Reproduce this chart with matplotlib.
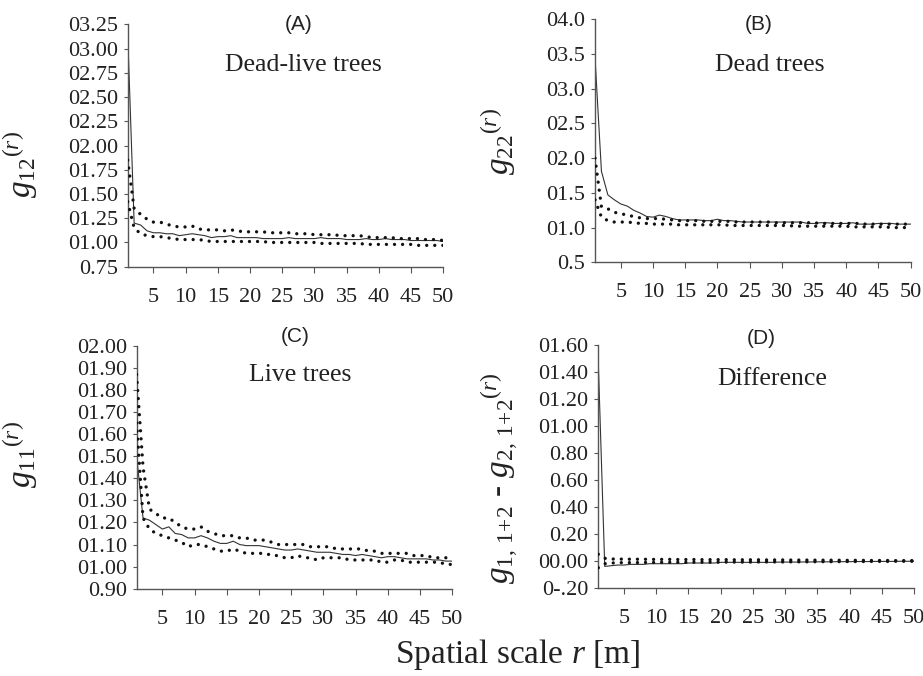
import matplotlib
matplotlib.use("Agg")
import matplotlib.pyplot as plt
import numpy as np

plt.rcParams['font.family'] = ['Liberation Serif', 'DejaVu Serif']
plt.rcParams['mathtext.fontset'] = 'custom'
plt.rcParams['mathtext.rm'] = 'Liberation Serif'
plt.rcParams['mathtext.it'] = 'Liberation Serif:italic'
plt.rcParams['lines.scale_dashes'] = False

r = list(range(1, 51))

# Panel A: dead-live trees g12
a_obs = [3.15, 1.20, 1.18, 1.12, 1.10, 1.10, 1.09, 1.09, 1.07, 1.08,
         1.09, 1.08, 1.07, 1.05, 1.06, 1.06, 1.07, 1.05, 1.05, 1.05,
         1.05, 1.04, 1.04, 1.04, 1.04, 1.05, 1.04, 1.04, 1.04, 1.04,
         1.05, 1.04, 1.04, 1.04, 1.03, 1.03, 1.03, 1.04, 1.03, 1.03,
         1.04, 1.03, 1.03, 1.03, 1.02, 1.02, 1.02, 1.02, 1.02, 1.01]
a_hi = [1.85, 1.35, 1.29, 1.24, 1.21, 1.21, 1.19, 1.17, 1.16, 1.16,
        1.17, 1.14, 1.13, 1.13, 1.13, 1.12, 1.13, 1.12, 1.11, 1.11,
        1.11, 1.11, 1.10, 1.10, 1.10, 1.10, 1.09, 1.09, 1.09, 1.08,
        1.08, 1.08, 1.08, 1.07, 1.07, 1.07, 1.07, 1.06, 1.05, 1.05,
        1.05, 1.05, 1.04, 1.04, 1.04, 1.04, 1.03, 1.03, 1.03, 1.02]
a_lo = [1.42, 1.15, 1.09, 1.07, 1.06, 1.06, 1.05, 1.04, 1.03, 1.03,
        1.03, 1.03, 1.02, 1.01, 1.01, 1.01, 1.01, 1.01, 1.01, 1.01,
        1.01, 1.01, 1.00, 1.00, 1.00, 1.00, 1.00, 1.00, 1.00, 1.00,
        0.99, 0.99, 0.99, 0.99, 0.99, 0.99, 0.99, 0.98, 0.98, 0.98,
        0.98, 0.98, 0.98, 0.98, 0.98, 0.97, 0.97, 0.97, 0.97, 0.97]

# Panel B: dead trees g22
b_obs = [3.45, 1.81, 1.47, 1.40, 1.34, 1.31, 1.25, 1.21, 1.16, 1.15,
         1.18, 1.16, 1.13, 1.11, 1.11, 1.11, 1.11, 1.10, 1.10, 1.12,
         1.10, 1.10, 1.09, 1.08, 1.08, 1.08, 1.08, 1.08, 1.08, 1.08,
         1.08, 1.08, 1.08, 1.06, 1.06, 1.07, 1.07, 1.06, 1.06, 1.06,
         1.07, 1.05, 1.05, 1.05, 1.06, 1.06, 1.06, 1.05, 1.05, 1.05]
b_hi = [2.00, 1.30, 1.27, 1.22, 1.20, 1.18, 1.16, 1.14, 1.13, 1.13,
        1.13, 1.12, 1.11, 1.10, 1.10, 1.10, 1.10, 1.09, 1.09, 1.09,
        1.09, 1.09, 1.08, 1.08, 1.08, 1.08, 1.08, 1.08, 1.07, 1.07,
        1.07, 1.07, 1.07, 1.07, 1.07, 1.06, 1.06, 1.06, 1.06, 1.06,
        1.06, 1.06, 1.05, 1.05, 1.05, 1.05, 1.05, 1.05, 1.05, 1.05]
b_lo = [1.40, 1.15, 1.10, 1.08, 1.08, 1.08, 1.07, 1.06, 1.06, 1.05,
        1.05, 1.05, 1.05, 1.04, 1.04, 1.04, 1.04, 1.04, 1.04, 1.04,
        1.04, 1.03, 1.03, 1.03, 1.03, 1.03, 1.03, 1.03, 1.03, 1.03,
        1.03, 1.02, 1.02, 1.02, 1.02, 1.02, 1.02, 1.02, 1.02, 1.02,
        1.01, 1.01, 1.01, 1.01, 1.01, 1.01, 1.00, 1.00, 1.00, 1.00]

# Panel C: live trees g11
c_obs = [1.50, 1.22, 1.21, 1.19, 1.17, 1.18, 1.15, 1.145, 1.13, 1.13,
         1.14, 1.13, 1.115, 1.105, 1.105, 1.115, 1.10, 1.095, 1.095, 1.095,
         1.09, 1.085, 1.08, 1.075, 1.075, 1.08, 1.075, 1.07, 1.065, 1.065,
         1.065, 1.06, 1.055, 1.055, 1.05, 1.055, 1.05, 1.045, 1.04, 1.045,
         1.045, 1.04, 1.035, 1.035, 1.035, 1.035, 1.03, 1.03, 1.025, 1.025]
c_hi = [1.87, 1.45, 1.26, 1.24, 1.22, 1.22, 1.20, 1.18, 1.17, 1.17,
        1.18, 1.16, 1.15, 1.14, 1.14, 1.14, 1.13, 1.13, 1.12, 1.12,
        1.12, 1.11, 1.10, 1.10, 1.10, 1.10, 1.10, 1.09, 1.09, 1.09,
        1.09, 1.08, 1.08, 1.08, 1.08, 1.08, 1.07, 1.07, 1.06, 1.06,
        1.06, 1.06, 1.06, 1.05, 1.05, 1.05, 1.04, 1.04, 1.04, 1.03]
c_lo = [1.65, 1.22, 1.17, 1.15, 1.14, 1.13, 1.12, 1.11, 1.09, 1.10,
        1.10, 1.09, 1.08, 1.07, 1.07, 1.08, 1.07, 1.06, 1.06, 1.06,
        1.06, 1.05, 1.05, 1.04, 1.04, 1.05, 1.04, 1.04, 1.03, 1.04,
        1.04, 1.04, 1.04, 1.03, 1.03, 1.03, 1.03, 1.03, 1.02, 1.02,
        1.03, 1.03, 1.02, 1.02, 1.02, 1.02, 1.02, 1.02, 1.01, 1.01]

# Panel D: difference
d_obs = [1.47, -0.04, -0.035, -0.03, -0.03, -0.025, -0.025, -0.025, -0.02, -0.02,
         -0.02, -0.02, -0.02, -0.02, -0.015, -0.015, -0.015, -0.015, -0.015, -0.01,
         -0.01, -0.01, -0.01, -0.01, -0.01, -0.01, -0.01, -0.01, -0.008, -0.008,
         -0.008, -0.008, -0.007, -0.007, -0.006, -0.006, -0.006, -0.005, -0.005, -0.005,
         -0.004, -0.004, -0.004, -0.003, -0.003, -0.003, -0.003, -0.002, -0.002, -0.002]
d_hi = [0.05, 0.02, 0.015, 0.014, 0.014, 0.013, 0.013, 0.013, 0.012, 0.012,
        0.012, 0.012, 0.011, 0.011, 0.011, 0.011, 0.010, 0.010, 0.010, 0.010,
        0.010, 0.009, 0.009, 0.009, 0.009, 0.009, 0.008, 0.008, 0.008, 0.008,
        0.007, 0.007, 0.007, 0.007, 0.006, 0.006, 0.006, 0.006, 0.005, 0.005,
        0.005, 0.005, 0.004, 0.004, 0.004, 0.004, 0.003, 0.003, 0.003, 0.003]
d_lo = [-0.05, -0.02, -0.015, -0.013, -0.012, -0.012, -0.012, -0.011, -0.011, -0.011,
        -0.010, -0.010, -0.010, -0.010, -0.010, -0.009, -0.009, -0.009, -0.009, -0.009,
        -0.008, -0.008, -0.008, -0.008, -0.008, -0.007, -0.007, -0.007, -0.007, -0.007,
        -0.006, -0.006, -0.006, -0.006, -0.005, -0.005, -0.005, -0.005, -0.004, -0.004,
        -0.004, -0.004, -0.003, -0.003, -0.003, -0.003, -0.002, -0.002, -0.002, -0.002]

x_ticks = [5, 10, 15, 20, 25, 30, 35, 40, 45, 50]

a_yticks = [0.75, 1.00, 1.25, 1.50, 1.75, 2.00, 2.25, 2.50, 2.75, 3.00, 3.25]
a_ylabels = ['0.75', '01.00', '01.25', '01.50', '01.75', '02.00', '02.25', '02.50', '02.75', '03.00', '03.25']
b_yticks = [0.5, 1.0, 1.5, 2.0, 2.5, 3.0, 3.5, 4.0]
b_ylabels = ['0.5', '01.0', '01.5', '02.0', '02.5', '03.0', '03.5', '04.0']
c_yticks = [0.9, 1.0, 1.1, 1.2, 1.3, 1.4, 1.5, 1.6, 1.7, 1.8, 1.9, 2.0]
c_ylabels = ['0.90', '01.00', '01.10', '01.20', '01.30', '01.40', '01.50', '01.60', '01.70', '01.80', '01.90', '02.00']
d_yticks = [-0.2, 0.0, 0.2, 0.4, 0.6, 0.8, 1.0, 1.2, 1.4, 1.6]
d_ylabels = ['0-.20', '00.00', '0.20', '0.40', '0.60', '0.80', '01.00', '01.20', '01.40', '01.60']

W, H = 923, 676
fig = plt.figure(figsize=(W / 100, H / 100), dpi=100)

def rect(l, rgt, t, b):
    return [l / W, 1 - b / H, (rgt - l) / W, (b - t) / H]

panels = [
    dict(rect=rect(127.7, 443.3, 24.3, 266.7), obs=a_obs, hi=a_hi, lo=a_lo,
         ylim=(0.75, 3.25), yt=a_yticks, yl=a_ylabels,
         tag='(A)', tagxy=(299, 25), title='Dead-live trees', titxy=(303, 65),
         ylab=r'$g_{12}{}^{(r)}$', ylabxy=(21, 165)),
    dict(rect=rect(595, 910.7, 19.3, 262.3), obs=b_obs, hi=b_hi, lo=b_lo,
         ylim=(0.5, 4.0), yt=b_yticks, yl=b_ylabels,
         tag='(B)', tagxy=(759, 25), title='Dead trees', titxy=(770, 65),
         ylab=r'$g_{22}{}^{(r)}$', ylabxy=(499, 142)),
    dict(rect=rect(136.6, 452.3, 345.7, 588.7), obs=c_obs, hi=c_hi, lo=c_lo,
         ylim=(0.9, 2.0), yt=c_yticks, yl=c_ylabels,
         tag='(C)', tagxy=(295, 337), title='Live trees', titxy=(300, 375),
         ylab=r'$g_{11}{}^{(r)}$', ylabxy=(20, 455)),
    dict(rect=rect(598.3, 914, 345, 588), obs=d_obs, hi=d_hi, lo=d_lo,
         ylim=(-0.2, 1.6), yt=d_yticks, yl=d_ylabels,
         tag='(D)', tagxy=(761, 339), title='Difference', titxy=(772, 379),
         ylab=r'$g_{1,\,1\!+\!2}$ - $g_{2,\,1\!+\!2}{}^{(r)}$', ylabxy=(500, 478)),
]

axis_col = '#555555'
for p in panels:
    ax = fig.add_axes(p['rect'])
    ax.plot(r, p['hi'], color='#111111', lw=2.4, linestyle=(0, (0.01, 5.8)),
            dash_capstyle='round', solid_capstyle='round', zorder=3)
    ax.plot(r, p['lo'], color='#111111', lw=2.4, linestyle=(0, (0.01, 5.8)),
            dash_capstyle='round', solid_capstyle='round', zorder=3)
    ax.plot(r, p['obs'], color='#333333', lw=0.8, zorder=2)
    ax.set_xlim(1, 50)
    ax.set_ylim(*p['ylim'])
    ax.set_xticks(x_ticks)
    ax.set_xticklabels([str(v) for v in x_ticks])
    ax.set_yticks(p['yt'])
    ax.set_yticklabels(p['yl'])
    for s in ['top', 'right']:
        ax.spines[s].set_visible(False)
    for s in ['left', 'bottom']:
        ax.spines[s].set_color(axis_col)
        ax.spines[s].set_linewidth(1.0)
    ax.tick_params(axis='x', direction='out', length=4, width=0.8, color=axis_col,
                   labelsize=16, pad=11, labelcolor='#222222')
    ax.tick_params(axis='y', direction='out', length=3, width=0.8, color=axis_col,
                   labelsize=16, pad=4, labelcolor='#222222')
    fig.text(p['tagxy'][0] / W, 1 - p['tagxy'][1] / H, p['tag'],
             family=['Liberation Sans', 'DejaVu Sans'], fontsize=15,
             ha='center', va='center', color='#222222')
    fig.text(p['titxy'][0] / W, 1 - p['titxy'][1] / H, p['title'],
             fontsize=18.5, ha='center', va='center', color='#222222')
    fig.text(p['ylabxy'][0] / W, 1 - p['ylabxy'][1] / H, p['ylab'],
             fontsize=24, rotation=90, ha='center', va='center', color='#222222')

fig.text(518 / W, 1 - 655 / H, r'Spatial scale $r$ [m]', fontsize=24,
         ha='center', va='center', color='#222222')

fig.savefig('out.png', dpi=100)
